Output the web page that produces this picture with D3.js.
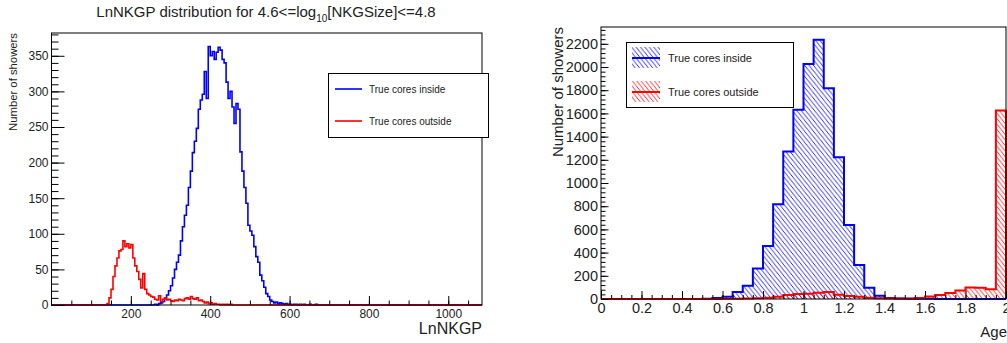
<!DOCTYPE html>
<html>
<head>
<meta charset="utf-8">
<script src="https://cdn.jsdelivr.net/npm/d3@7"></script>
<style>
  html, body { margin: 0; padding: 0; background: #fff; }
  svg { display: block; font-family: "Liberation Sans", Arial, Helvetica, sans-serif; }
</style>
</head>
<body>
<svg id="chart" width="1007" height="343"></svg>
<script>
// ---------- LnNKGP distribution (bins of width 5) ----------
const lnBinWidth = 5;
const lnRange = [0, 1085];
const insideStart = 250;
const insideCounts = [
  0, 0, 1, 0, 2, 3, 5, 9, 14, 20,
  27, 38, 50, 60, 70, 90, 110, 126, 140, 165,
  188, 214, 230, 248, 275, 288, 296, 328, 290, 363,
  350, 356, 345, 355, 362, 358, 345, 340, 313, 290,
  300, 278, 255, 283, 275, 215, 188, 165, 143, 112,
  104, 98, 82, 68, 60, 42, 34, 25, 16, 12,
  7, 5, 3, 4, 2, 3, 2, 1, 2, 1,
  1, 0, 1, 1, 0, 1, 0, 1, 0, 0,
  1, 0, 0, 1, 0, 0, 0, 0, 0, 0
];
const outsideStart = 130;
const outsideCounts = [
  0, 0, 2, 10, 22, 40, 55, 66, 76, 78,
  90, 82, 86, 80, 85, 66, 55, 47, 36, 24,
  44, 22, 16, 14, 12, 11, 8, 7, 13, 5,
  8, 10, 7, 8, 6, 5, 7, 6, 8, 7,
  6, 9, 10, 8, 12, 9, 8, 10, 6, 7,
  5, 3, 4, 2, 3, 1, 2, 1, 1, 0,
  1, 0, 1, 0, 1, 0, 0, 0, 0, 0
];
const lnXTicks = [200, 400, 600, 800, 1000];
const lnYTicks = [0, 50, 100, 150, 200, 250, 300, 350];

// ---------- Age distribution (40 bins of width 0.05) ----------
const ageBinWidth = 0.05;
const ageRange = [0, 2];
const ageInside = [
  0, 0, 0, 0, 0, 0, 0, 0, 0, 0,
  3, 9, 20, 60, 115, 262, 457, 816, 1271, 1631,
  2025, 2235, 1818, 1222, 638, 293, 97, 27, 9, 5,
  3, 2, 2, 1, 1, 1, 0, 0, 0, 0
];
const ageOutside = [
  0, 0, 0, 0, 0, 0, 0, 0, 0, 0,
  1, 1, 2, 3, 4, 6, 10, 19, 34, 43,
  46, 54, 60, 37, 25, 19, 10, 7, 5, 4,
  4, 8, 22, 35, 52, 73, 100, 97, 83, 1625
];
const ageXTicks = [0, 0.2, 0.4, 0.6, 0.8, 1, 1.2, 1.4, 1.6, 1.8, 2];
const ageYTicks = [0, 200, 400, 600, 800, 1000, 1200, 1400, 1600, 1800, 2000, 2200];

const seriesNames = ["True cores inside", "True cores outside"];
const seriesColors = ["#0000ff", "#ff0000"];

const svg = d3.select("#chart");
const tickColor = "#000";
const labelColor = "#222";

// Step outline points for a histogram: zero baseline before/after the filled bins
function stepPoints(start, width, counts, lo, hi) {
  const pts = [[lo, 0]];
  counts.forEach((c, i) => pts.push([start + i * width, c]));
  pts.push([start + counts.length * width, 0]);
  if (hi > start + counts.length * width) pts.push([hi, 0]);
  return pts;
}

// Inward ticks with labels outside the frame
function drawAxes(g, x, y, opt) {
  const bottom = y.range()[0];
  const left = x.range()[0];
  g.append("g").attr("transform", `translate(0,${bottom})`)
    .call(d3.axisBottom(x).tickValues(opt.xMinor).tickSize(-opt.xMinorLen).tickFormat(""))
    .call(s => s.select(".domain").remove());
  g.append("g").attr("transform", `translate(0,${bottom})`)
    .call(d3.axisBottom(x).tickValues(opt.xTicks).tickSize(-opt.xMajorLen).tickPadding(opt.xPad).tickFormat(opt.xFmt))
    .call(s => s.select(".domain").remove())
    .call(s => s.selectAll("text").attr("font-size", opt.fontSize).attr("fill", labelColor)
      .attr("font-family", "Liberation Sans, Arial, sans-serif"));
  g.append("g").attr("transform", `translate(${left},0)`)
    .call(d3.axisLeft(y).tickValues(opt.yMinor).tickSize(-opt.yMinorLen).tickFormat(""))
    .call(s => s.select(".domain").remove());
  g.append("g").attr("transform", `translate(${left},0)`)
    .call(d3.axisLeft(y).tickValues(opt.yTicks).tickSize(-opt.yMajorLen).tickPadding(opt.yPad).tickFormat(d3.format("d")))
    .call(s => s.select(".domain").remove())
    .call(s => s.selectAll("text").attr("font-size", opt.fontSize).attr("fill", labelColor)
      .attr("font-family", "Liberation Sans, Arial, sans-serif"));
  g.selectAll(".tick line").attr("stroke", tickColor).attr("stroke-width", 1);
}

// ================= Left panel: LnNKGP =================
{
  const x = d3.scaleLinear().domain(lnRange).range([51.5, 482]);
  const y = d3.scaleLinear().domain([0, 382]).range([305, 33]);
  const g = svg.append("g");

  const line = d3.line().curve(d3.curveStepAfter).x(d => x(d[0])).y(d => y(d[1]));
  const series = [
    stepPoints(insideStart, lnBinWidth, insideCounts, lnRange[0], lnRange[1]),
    stepPoints(outsideStart, lnBinWidth, outsideCounts, lnRange[0], lnRange[1])
  ];
  series.forEach((pts, i) => {
    g.append("path").attr("d", line(pts)).attr("fill", "none")
      .attr("stroke", seriesColors[i]).attr("stroke-width", 1.6);
  });

  g.append("rect").attr("x", x.range()[0]).attr("y", y.range()[1])
    .attr("width", x.range()[1] - x.range()[0]).attr("height", y.range()[0] - y.range()[1])
    .attr("fill", "none").attr("stroke", "#000").attr("stroke-width", 1);

  drawAxes(g, x, y, {
    xTicks: lnXTicks, xMinor: d3.range(50, 1085, 50), xMajorLen: 9, xMinorLen: 4.5, xPad: 4,
    xFmt: d3.format("d"),
    yTicks: lnYTicks, yMinor: d3.range(0, 382, 10), yMajorLen: 13, yMinorLen: 7, yPad: 3,
    fontSize: 12
  });

  // title with subscript
  const t = svg.append("text").attr("x", 266).attr("y", 16.5).attr("text-anchor", "middle")
    .attr("font-size", 15).attr("fill", labelColor);
  t.append("tspan").text("LnNKGP distribution for 4.6<=log");
  t.append("tspan").attr("dy", 5).attr("font-size", 10).text("10");
  t.append("tspan").attr("dy", -5).text("[NKGSize]<=4.8");

  svg.append("text").attr("transform", "translate(17,33) rotate(-90)")
    .attr("text-anchor", "end").attr("font-size", 11.3).attr("fill", labelColor)
    .text("Number of showers");
  svg.append("text").attr("x", 482).attr("y", 334).attr("text-anchor", "end")
    .attr("font-size", 16).attr("fill", labelColor).text("LnNKGP");

  // legend
  const lg = svg.append("g");
  lg.append("rect").attr("x", 328.5).attr("y", 73.5).attr("width", 160).attr("height", 64)
    .attr("fill", "#fff").attr("stroke", "#000").attr("stroke-width", 1);
  seriesNames.forEach((name, i) => {
    const yy = 89 + i * 32;
    lg.append("line").attr("x1", 335).attr("x2", 362).attr("y1", yy).attr("y2", yy)
      .attr("stroke", seriesColors[i]).attr("stroke-width", 1.6);
    lg.append("text").attr("x", 369).attr("y", yy).attr("dy", "0.35em")
      .attr("font-size", 10).attr("fill", labelColor).text(name);
  });
}

// ================= Right panel: Age =================
{
  const x = d3.scaleLinear().domain(ageRange).range([601, 1006]);
  const y = d3.scaleLinear().domain([0, 2345]).range([299, 27]);
  const g = svg.append("g");

  // "\" hatching, slightly steeper than 45 degrees
  const hw = 4.4, hh = 5.5;
  const defs = svg.append("defs");
  const hatchIds = seriesColors.map((c, i) => {
    const id = "hatch" + i;
    defs.append("pattern").attr("id", id).attr("patternUnits", "userSpaceOnUse")
      .attr("width", hw).attr("height", hh)
      .append("path")
      .attr("d", `M${-hw},${-hh} L${2 * hw},${2 * hh} M0,${-hh} L${2 * hw},${hh} M${-hw},0 L${hw},${2 * hh}`)
      .attr("stroke", c).attr("stroke-width", 0.85).attr("fill", "none");
    return id;
  });

  const area = d3.area().curve(d3.curveStepAfter).x(d => x(d[0])).y0(y(0)).y1(d => y(d[1]));
  const line = d3.line().curve(d3.curveStepAfter).x(d => x(d[0])).y(d => y(d[1]));
  [ageInside, ageOutside].forEach((counts, i) => {
    const pts = stepPoints(0, ageBinWidth, counts, ageRange[0], ageRange[1]);
    g.append("path").attr("d", area(pts)).attr("fill", `url(#${hatchIds[i]})`);
    g.append("path").attr("d", line(pts)).attr("fill", "none")
      .attr("stroke", seriesColors[i]).attr("stroke-width", 2);
  });

  g.append("rect").attr("x", x.range()[0]).attr("y", y.range()[1])
    .attr("width", x.range()[1] - x.range()[0]).attr("height", y.range()[0] - y.range()[1])
    .attr("fill", "none").attr("stroke", "#000").attr("stroke-width", 1);

  drawAxes(g, x, y, {
    xTicks: ageXTicks, xMinor: d3.range(0, 2.001, 0.05), xMajorLen: 8, xMinorLen: 4, xPad: 4,
    xFmt: d => d3.format("~g")(d),
    yTicks: ageYTicks, yMinor: d3.range(0, 2345, 40), yMajorLen: 7.5, yMinorLen: 4.5, yPad: 3,
    fontSize: 14.5
  });

  svg.append("text").attr("transform", "translate(563,27) rotate(-90)")
    .attr("text-anchor", "end").attr("font-size", 15).attr("fill", labelColor)
    .text("Number of showers");
  svg.append("text").attr("x", 1007).attr("y", 337).attr("text-anchor", "end")
    .attr("font-size", 15).attr("fill", labelColor).text("Age");

  // legend with hatched swatches
  const lg = svg.append("g");
  lg.append("rect").attr("x", 626.5).attr("y", 42.5).attr("width", 167).attr("height", 65)
    .attr("fill", "#fff").attr("stroke", "#000").attr("stroke-width", 1);
  seriesNames.forEach((name, i) => {
    const yy = 58 + i * 34;
    lg.append("rect").attr("x", 632).attr("y", yy - 11).attr("width", 28).attr("height", 21)
      .attr("fill", `url(#${hatchIds[i]})`);
    lg.append("line").attr("x1", 632).attr("x2", 660).attr("y1", yy).attr("y2", yy)
      .attr("stroke", seriesColors[i]).attr("stroke-width", 2);
    lg.append("text").attr("x", 668).attr("y", yy).attr("dy", "0.35em")
      .attr("font-size", 11).attr("fill", labelColor).text(name);
  });
}
</script>
</body>
</html>
